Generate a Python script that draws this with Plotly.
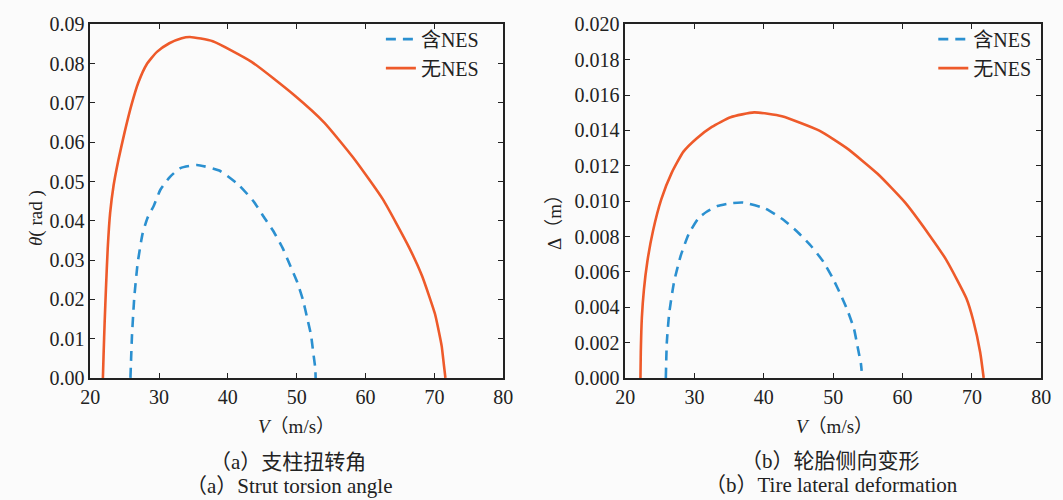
import plotly.graph_objects as go

# ---- data ----
v_a_without = [21.85, 21.95, 22.1, 22.3, 22.55, 22.9, 23.4, 24.1, 25.0, 26.0, 27.0, 28.2, 29.7, 31.5, 33.3,
               34.5, 37.8, 43.5, 49.7, 54.0, 58.2, 62.5, 66.3, 68.2, 70.1, 70.6, 71.06, 71.4, 71.6]
th_without = [0, 0.006, 0.014, 0.023, 0.033, 0.042, 0.049, 0.0555, 0.0625, 0.0695, 0.0752, 0.0798, 0.0830,
              0.0852, 0.0865, 0.0868, 0.0857, 0.0804, 0.0719, 0.065, 0.0561, 0.0455, 0.0333, 0.026, 0.0162,
              0.0122, 0.0081, 0.003, 0]

v_a_with = [25.85, 25.95, 26.07, 26.4, 26.9, 27.6, 28.3, 29.26, 30.2, 31.6, 33.1, 35.5, 38.75, 41.6, 43.8,
            45.4, 46.6, 48.0, 49.1, 50.07, 50.9, 51.5, 52.07, 52.4, 52.7, 52.75]
th_with = [0, 0.005, 0.0106, 0.0203, 0.0292, 0.0366, 0.0406, 0.0439, 0.0479, 0.0512, 0.0534, 0.0542, 0.0528,
           0.0491, 0.0448, 0.0405, 0.0374, 0.0329, 0.0284, 0.0244, 0.0199, 0.0154, 0.011, 0.0065, 0.0024, 0]

v_b_without = [22.2, 22.25, 22.4, 22.7, 23.2, 24.0, 25.2, 26.7, 28.4, 30.3, 32.5, 35.2, 38.6, 42.6,
               48.0, 51.95, 56.4, 60.35, 63.8, 66.3, 69.2, 70.2, 71.2, 71.7]
d_without = [0, 0.0015, 0.0034, 0.0050, 0.0066, 0.0083, 0.0101, 0.0116, 0.0128, 0.01355, 0.0142, 0.01475,
             0.01502, 0.0148, 0.01399, 0.013, 0.01155, 0.00993, 0.00812, 0.00668, 0.00451, 0.00325, 0.00144, 0]

v_b_with = [25.86, 26.0, 26.34, 27.05, 27.98, 29.17, 30.58, 31.75, 33.3, 35.2, 37.0, 40.2, 42.9, 45.0, 46.9,
            48.6, 49.96, 51.1, 52.1, 53.0, 53.5, 54.0, 54.1]
d_with = [0, 0.002, 0.00364, 0.00544, 0.00688, 0.00815, 0.00904, 0.0094, 0.00972, 0.00988, 0.00992, 0.00958,
          0.00892, 0.0082, 0.00742, 0.00656, 0.00562, 0.00469, 0.00378, 0.00277, 0.0018, 0.00079, 0.0004]

name_with = "含NES"
name_without = "无NES"
x_ticks = [20, 30, 40, 50, 60, 70, 80]
y_ticks_a = [0.00, 0.01, 0.02, 0.03, 0.04, 0.05, 0.06, 0.07, 0.08, 0.09]
y_ticks_b = [0.000, 0.002, 0.004, 0.006, 0.008, 0.010, 0.012, 0.014, 0.016, 0.018, 0.020]

# ---- style ----
BLUE = "#2B90D0"
ORANGE = "#EE5A2A"
FONT = "Liberation Serif, Noto Sans CJK SC, serif"
W, H = 1063, 500

dash_line = dict(color=BLUE, width=2.6, dash="10px,7px", shape="spline", smoothing=0.5)
solid_line = dict(color=ORANGE, width=2.6, shape="spline", smoothing=0.5)

fig = go.Figure()
fig.add_trace(go.Scatter(x=v_a_with, y=th_with, mode="lines", name=name_with, line=dash_line,
                         xaxis="x", yaxis="y", legend="legend"))
fig.add_trace(go.Scatter(x=v_a_without, y=th_without, mode="lines", name=name_without, line=solid_line,
                         xaxis="x", yaxis="y", legend="legend"))
fig.add_trace(go.Scatter(x=v_b_with, y=d_with, mode="lines", name=name_with, line=dash_line,
                         xaxis="x2", yaxis="y2", legend="legend2"))
fig.add_trace(go.Scatter(x=v_b_without, y=d_without, mode="lines", name=name_without, line=solid_line,
                         xaxis="x2", yaxis="y2", legend="legend2"))

y0 = (H - 383.8) / H
y1 = (H - 14) / H

axis_common = dict(showline=True, linecolor="#222", linewidth=1.5, mirror="ticks",
                   ticks="inside", ticklen=5, tickwidth=1.3, tickcolor="#222",
                   showgrid=False, zeroline=False,
                   tickfont=dict(family=FONT, size=20, color="#222"))

legend_common = dict(xanchor="left", yanchor="top", bgcolor="rgba(0,0,0,0)",
                     font=dict(family=FONT, size=20, color="#222"), tracegroupgap=0, itemwidth=30)

fig.update_layout(
    width=W, height=H,
    margin=dict(l=0, r=0, t=0, b=0),
    paper_bgcolor="#fbfbfb", plot_bgcolor="#fbfbfb",
    xaxis=dict(domain=[81.7 / W, 502.7 / W], range=[20, 80], tickvals=x_ticks,
               anchor="y", **axis_common),
    yaxis=dict(domain=[y0, y1], range=[0, 0.09], tickvals=y_ticks_a, tickformat=".2f",
               anchor="x", **axis_common),
    xaxis2=dict(domain=[627 / W, 1051 / W], range=[20, 80], tickvals=x_ticks,
                anchor="y2", **axis_common),
    yaxis2=dict(domain=[y0, y1], range=[0, 0.020], tickvals=y_ticks_b, tickformat=".3f",
                anchor="x2", **axis_common),
    legend=dict(x=378 / W, y=(H - 9) / H, **legend_common),
    legend2=dict(x=941 / W, y=(H - 9) / H, **legend_common),
    showlegend=True,
)

anns = [
    dict(text="<i>θ</i>( rad )", x=27 / W, y=(H - 216) / H, textangle=-90, size=19),
    dict(text="Δ（m）", x=555 / W, y=(H - 216) / H, textangle=-90, size=19),
    dict(text="<i>V</i>（m/s）", x=292 / W, y=(H - 435) / H, size=19),
    dict(text="<i>V</i>（m/s）", x=840 / W, y=(H - 435) / H, size=19),
    dict(text="（a）支柱扭转角", x=283 / W, y=(H - 472) / H, size=21),
    dict(text="（a）Strut torsion angle", x=284 / W, y=(H - 497) / H, size=21),
    dict(text="（b）轮胎侧向变形", x=836 / W, y=(H - 471) / H, size=21),
    dict(text="（b）Tire lateral deformation", x=837 / W, y=(H - 496) / H, size=21),
]
for a in anns:
    size = a.pop("size")
    fig.add_annotation(xref="paper", yref="paper", xanchor="center", yanchor="middle",
                       showarrow=False, font=dict(family=FONT, size=size, color="#222"), **a)

fig.write_html("out.html")
